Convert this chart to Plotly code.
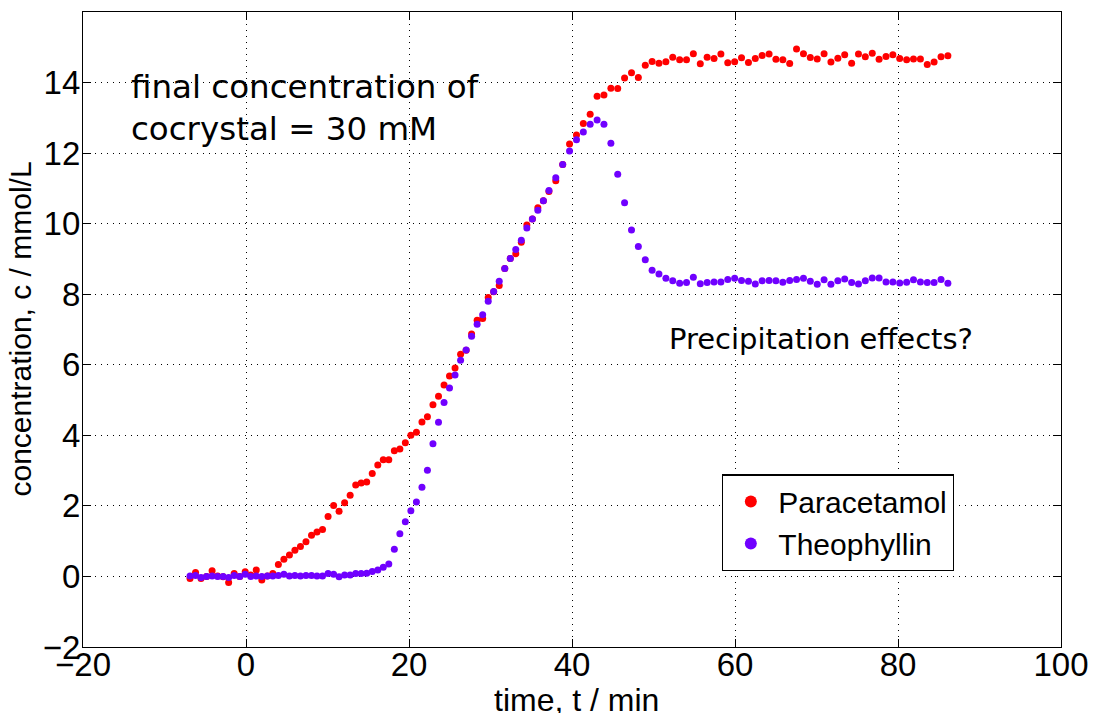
import plotly.graph_objects as go

# time axis (min)
time = [-6.87, -6.19, -5.52, -4.84, -4.16, -3.48, -2.81, -2.13, -1.45, -0.77,
        -0.10, 0.58, 1.26, 1.94, 2.62, 3.29, 3.97, 4.65, 5.33, 6.00,
        6.68, 7.36, 8.04, 8.71, 9.39, 10.07, 10.75, 11.42, 12.10, 12.78,
        13.46, 14.13, 14.81, 15.49, 16.17, 16.84, 17.52, 18.20, 18.88, 19.55,
        20.23, 20.91, 21.59, 22.26, 22.94, 23.62, 24.30, 24.97, 25.65, 26.33,
        27.01, 27.68, 28.36, 29.04, 29.72, 30.39, 31.07, 31.75, 32.43, 33.10,
        33.78, 34.46, 35.14, 35.81, 36.49, 37.17,
        38.01, 38.86, 39.70, 40.55, 41.39, 42.23, 43.08, 43.92, 44.77, 45.61,
        46.45, 47.30, 48.14, 48.99, 49.83, 50.67, 51.52, 52.36, 53.21, 54.05,
        54.89, 55.74, 56.58, 57.43, 58.27, 59.11, 59.96, 60.80, 61.65, 62.49,
        63.33, 64.18, 65.02, 65.87, 66.71, 67.55, 68.40, 69.24, 70.09, 70.93,
        71.77, 72.62, 73.46, 74.31, 75.15, 75.99, 76.84, 77.68, 78.53, 79.37,
        80.21, 81.06, 81.90, 82.75, 83.59, 84.43, 85.28, 86.12]

paracetamol = [-0.06, 0.11, -0.06, 0.00, 0.16, 0.01, -0.01, -0.17, 0.08, 0.00,
               0.13, 0.04, 0.18, -0.10, 0.01, 0.08, 0.34, 0.49, 0.61, 0.74,
               0.85, 0.98, 1.17, 1.26, 1.33, 1.70, 2.01, 1.85, 2.09, 2.30,
               2.59, 2.65, 2.68, 2.92, 3.16, 3.31, 3.31, 3.56, 3.61, 3.79,
               4.00, 4.09, 4.38, 4.53, 4.87, 5.11, 5.43, 5.68, 5.91, 6.30,
               6.41, 6.87, 7.26, 7.31, 7.91, 8.07, 8.25, 8.73, 9.01, 9.15,
               9.47, 9.96, 10.13, 10.45, 10.65, 10.91,
               11.22, 11.68, 12.26, 12.51, 12.84, 13.10, 13.61, 13.65, 13.84, 13.83,
               14.13, 14.28, 14.14, 14.49, 14.60, 14.55, 14.59, 14.72, 14.65, 14.65,
               14.82, 14.53, 14.72, 14.68, 14.81, 14.56, 14.59, 14.70, 14.57, 14.68,
               14.77, 14.81, 14.66, 14.65, 14.54, 14.95, 14.82, 14.71, 14.67, 14.82,
               14.58, 14.69, 14.79, 14.55, 14.81, 14.73, 14.83, 14.66, 14.74, 14.79,
               14.68, 14.65, 14.67, 14.67, 14.51, 14.58, 14.73, 14.76]

theophyllin = [0.01, 0.03, -0.03, 0.00, 0.01, 0.00, 0.00, -0.03, 0.03, 0.00,
               0.06, 0.00, 0.01, 0.00, 0.01, 0.01, 0.03, 0.06, 0.01, 0.03,
               0.01, 0.03, 0.03, 0.01, 0.01, 0.08, 0.06, -0.01, 0.04, 0.04,
               0.08, 0.08, 0.09, 0.14, 0.18, 0.26, 0.35, 0.77, 1.21, 1.55,
               1.86, 2.11, 2.53, 3.01, 3.76, 4.37, 4.93, 5.34, 5.71, 6.13,
               6.42, 6.81, 7.15, 7.42, 7.80, 8.08, 8.37, 8.73, 9.01, 9.27,
               9.53, 9.88, 10.13, 10.38, 10.65, 10.94,
               11.30, 11.68, 12.06, 12.38, 12.60, 12.82, 12.94, 12.82, 12.28, 11.40,
               10.59, 9.82, 9.35, 8.98, 8.68, 8.57, 8.45, 8.38, 8.31, 8.33,
               8.48, 8.30, 8.33, 8.35, 8.35, 8.42, 8.45, 8.39, 8.37, 8.29,
               8.38, 8.39, 8.38, 8.34, 8.39, 8.42, 8.45, 8.37, 8.28, 8.41,
               8.28, 8.38, 8.43, 8.33, 8.29, 8.38, 8.46, 8.46, 8.35, 8.35,
               8.32, 8.34, 8.41, 8.35, 8.33, 8.33, 8.42, 8.31]

x_ticks = [-20, 0, 20, 40, 60, 80, 100]
y_ticks = [-2, 0, 2, 4, 6, 8, 10, 12, 14]

SANS = "Liberation Sans, Arial, sans-serif"
NOTE_FONT = "DejaVu Sans, Verdana, sans-serif"
TICK_FONT = dict(family=SANS, size=33, color="black")

fig = go.Figure()
fig.add_trace(go.Scatter(x=time, y=paracetamol, mode="markers", name="Paracetamol",
                         marker=dict(color="#ff0000", size=7, line=dict(width=0))))
fig.add_trace(go.Scatter(x=time, y=theophyllin, mode="markers", name="Theophyllin",
                         marker=dict(color="#7000ff", size=7, line=dict(width=0))))

axis_common = dict(showline=True, linecolor="black", linewidth=1.3, mirror="ticks",
                   ticks="inside", ticklen=8, tickcolor="black", tickwidth=1.3,
                   showgrid=True, gridcolor="black", gridwidth=1, griddash="1px,5px",
                   zeroline=False, tickfont=TICK_FONT, automargin=False)

fig.update_xaxes(range=[-20, 100], tickvals=x_ticks, ticklabelstandoff=-12, **axis_common)
fig.update_yaxes(range=[-2, 16], tickvals=y_ticks, ticklabelstandoff=-5, **axis_common)

fig.update_layout(
    width=1094, height=713,
    margin=dict(l=83, r=33, t=12, b=66),
    plot_bgcolor="white", paper_bgcolor="white",
    showlegend=True,
    legend=dict(x=0.6534, y=0.272, xanchor="left", yanchor="top",
                bgcolor="white", bordercolor="black", borderwidth=1.3,
                font=dict(family=SANS, size=30, color="black"),
                itemwidth=45, itemsizing="constant"),
    annotations=[
        dict(text="final concentration of", x=-14.33, y=13.88, xref="x", yref="y",
             xanchor="left", yanchor="middle", showarrow=False,
             font=dict(family=NOTE_FONT, size=32.5, color="black")),
        dict(text="cocrystal = 30 mM", x=-14.33, y=12.67, xref="x", yref="y",
             xanchor="left", yanchor="middle", showarrow=False,
             font=dict(family=NOTE_FONT, size=32.5, color="black")),
        dict(text="Precipitation effects?", x=51.7, y=6.72, xref="x", yref="y",
             xanchor="left", yanchor="middle", showarrow=False,
             font=dict(family=NOTE_FONT, size=29, color="black")),
        dict(text="concentration, c / mmol/L", x=-0.0644, y=0.5, xref="paper", yref="paper",
             xanchor="center", yanchor="middle", textangle=-90, showarrow=False,
             font=dict(family=SANS, size=30, color="black")),
        dict(text="time, t / min", x=0.5046, y=-0.052, xref="paper", yref="paper",
             xanchor="center", yanchor="top", showarrow=False,
             font=dict(family=SANS, size=32, color="black")),
    ],
)

fig.write_html("out.html", config={"displayModeBar": False},
               post_script="document.body.style.margin='0';")
